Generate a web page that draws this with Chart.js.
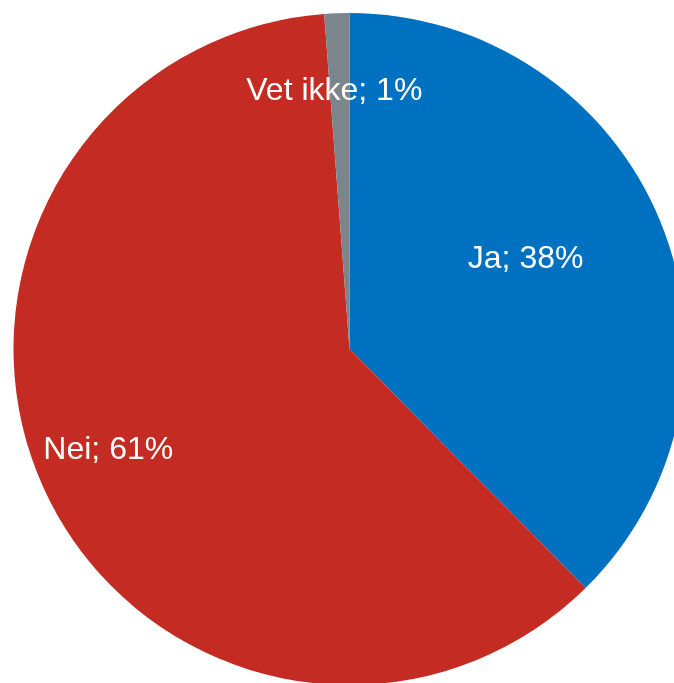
<!DOCTYPE html>
<html>
<head>
<meta charset="utf-8">
<script src="https://cdn.jsdelivr.net/npm/chart.js@4/dist/chart.umd.min.js"></script>
<style>
  html, body { margin: 0; padding: 0; background: #ffffff; overflow: hidden; width: 674px; height: 683px; }
  #wrap { position: absolute; left: 0; top: 0; width: 699px; height: 698px; }
</style>
</head>
<body>
<div id="wrap"><canvas id="c" width="699" height="698"></canvas></div>
<script>
const categories = ["Ja", "Nei", "Vet ikke"];
const shares = [37.6, 61.2, 1.2];
const shownPercent = [38, 61, 1];
const colors = ["#0070C0", "#C42B23", "#7A868C"];

const labelPlugin = {
  id: 'sliceLabels',
  afterDatasetsDraw(chart, args, opts) {
    const ctx = chart.ctx;
    const meta = chart.getDatasetMeta(0);
    ctx.save();
    ctx.font = opts.font;
    ctx.fillStyle = opts.color;
    ctx.textAlign = 'center';
    ctx.textBaseline = 'middle';
    meta.data.forEach((arc, i) => {
      const p = arc.getProps(['x', 'y', 'startAngle', 'endAngle', 'outerRadius'], true);
      const mid = (p.startAngle + p.endAngle) / 2 + (opts.angleShift[i] || 0) * Math.PI / 180;
      const r = p.outerRadius * opts.radiusRatio[i];
      const x = p.x + Math.cos(mid) * r;
      const y = p.y + Math.sin(mid) * r;
      ctx.fillText(categories[i] + '; ' + shownPercent[i] + '%', x, y + 1);
    });
    ctx.restore();
  }
};

new Chart(document.getElementById('c'), {
  type: 'pie',
  data: {
    labels: categories,
    datasets: [{
      data: shares,
      backgroundColor: colors,
      borderWidth: 0
    }]
  },
  options: {
    responsive: false,
    animation: false,
    devicePixelRatio: 1,
    layout: { padding: 13 },
    plugins: {
      legend: { display: false },
      tooltip: { enabled: false },
      sliceLabels: {
        font: '32px "Liberation Sans", Arial, sans-serif',
        color: '#ffffff',
        radiusRatio: [0.59, 0.777, 0.772],
        angleShift: [-5, 2, -1.2]
      }
    }
  },
  plugins: [labelPlugin]
});
</script>
</body>
</html>
